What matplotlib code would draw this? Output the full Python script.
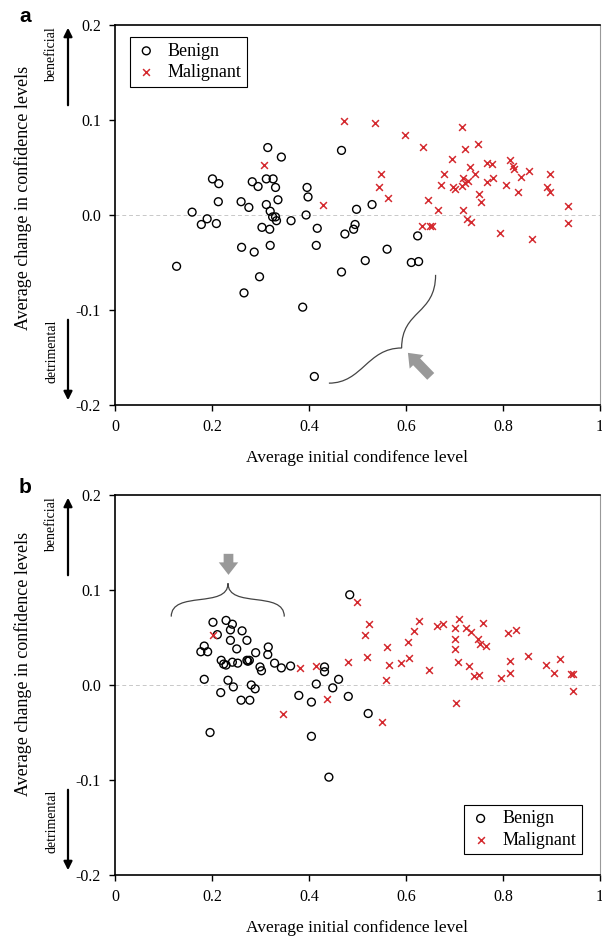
import matplotlib
matplotlib.use('Agg')
import matplotlib.pyplot as plt
from matplotlib.path import Path
from matplotlib.patches import PathPatch

plt.rcParams['font.family'] = ['Liberation Serif', 'DejaVu Serif']
plt.rcParams['axes.unicode_minus'] = False

# panel a
ben_a_x = [0.127, 0.159, 0.178, 0.190, 0.209, 0.201, 0.214, 0.213, 0.260, 0.276,
           0.261, 0.287, 0.266, 0.298, 0.283, 0.295, 0.315, 0.343, 0.312, 0.326,
           0.331, 0.336, 0.312, 0.320, 0.325, 0.331, 0.333, 0.303, 0.319, 0.320,
           0.363, 0.396, 0.398, 0.394, 0.417, 0.415, 0.387, 0.411, 0.467, 0.467,
           0.474, 0.492, 0.495, 0.498, 0.530, 0.516, 0.561, 0.624, 0.611, 0.626]
ben_a_y = [-0.054, 0.003, -0.010, -0.004, -0.009, 0.038, 0.033, 0.014, 0.014, 0.008,
           -0.034, -0.039, -0.082, -0.065, 0.035, 0.030, 0.071, 0.061, 0.038, 0.038,
           0.029, 0.016, 0.011, 0.004, -0.002, -0.002, -0.006, -0.013, -0.015, -0.032,
           -0.006, 0.029, 0.019, 0.000, -0.014, -0.032, -0.097, -0.170, 0.068, -0.060,
           -0.020, -0.015, -0.010, 0.006, 0.011, -0.048, -0.036, -0.022, -0.050, -0.049]
mal_a_x = [0.307, 0.472, 0.428, 0.536, 0.598, 0.635, 0.548, 0.545, 0.562, 0.645,
           0.665, 0.632, 0.650, 0.654, 0.716, 0.721, 0.749, 0.695, 0.732, 0.743,
           0.678, 0.672, 0.697, 0.700, 0.717, 0.722, 0.728, 0.716, 0.750, 0.754,
           0.717, 0.726, 0.734, 0.767, 0.777, 0.767, 0.779, 0.806, 0.814, 0.820,
           0.823, 0.837, 0.854, 0.831, 0.793, 0.860, 0.897, 0.890, 0.897, 0.935, 0.934]
mal_a_y = [0.053, 0.099, 0.011, 0.097, 0.084, 0.072, 0.043, 0.029, 0.018, 0.016,
           0.005, -0.012, -0.012, -0.012, 0.093, 0.070, 0.075, 0.059, 0.051, 0.043,
           0.043, 0.032, 0.030, 0.027, 0.039, 0.034, 0.036, 0.031, 0.022, 0.014,
           0.005, -0.004, -0.007, 0.055, 0.054, 0.035, 0.039, 0.032, 0.058, 0.052,
           0.048, 0.040, 0.046, 0.024, -0.019, -0.025, 0.043, 0.030, 0.024, 0.010, -0.008]

# panel b
ben_b_x = [0.484, 0.202, 0.211, 0.229, 0.242, 0.238, 0.262, 0.238, 0.272, 0.184,
           0.177, 0.191, 0.251, 0.290, 0.316, 0.315, 0.219, 0.224, 0.229, 0.242,
           0.253, 0.272, 0.277, 0.274, 0.299, 0.302, 0.329, 0.343, 0.362, 0.184,
           0.233, 0.244, 0.218, 0.281, 0.289, 0.260, 0.278, 0.196, 0.379, 0.405,
           0.405, 0.415, 0.432, 0.432, 0.449, 0.461, 0.481, 0.441, 0.522]
ben_b_y = [0.095, 0.066, 0.053, 0.068, 0.064, 0.058, 0.057, 0.047, 0.047, 0.041,
           0.035, 0.035, 0.038, 0.034, 0.040, 0.032, 0.026, 0.022, 0.021, 0.024,
           0.023, 0.026, 0.026, 0.025, 0.019, 0.015, 0.023, 0.018, 0.020, 0.006,
           0.005, -0.002, -0.008, 0.000, -0.004, -0.016, -0.016, -0.050, -0.011, -0.018,
           -0.054, 0.001, 0.019, 0.014, -0.003, 0.006, -0.012, -0.097, -0.030]
mal_b_x = [0.202, 0.381, 0.414, 0.480, 0.438, 0.347, 0.498, 0.523, 0.516, 0.520,
           0.550, 0.561, 0.559, 0.565, 0.589, 0.606, 0.605, 0.617, 0.626, 0.648,
           0.663, 0.676, 0.702, 0.709, 0.702, 0.702, 0.707, 0.704, 0.724, 0.734,
           0.758, 0.749, 0.753, 0.765, 0.730, 0.741, 0.750, 0.795, 0.815, 0.814,
           0.810, 0.827, 0.852, 0.888, 0.906, 0.918, 0.940, 0.945, 0.944]
mal_b_y = [0.053, 0.018, 0.020, 0.024, -0.015, -0.030, 0.087, 0.064, 0.053, 0.029,
           -0.039, 0.040, 0.005, 0.021, 0.023, 0.028, 0.045, 0.057, 0.067, 0.016,
           0.062, 0.064, 0.060, 0.070, 0.048, 0.038, 0.024, -0.019, 0.060, 0.056,
           0.065, 0.048, 0.043, 0.041, 0.020, 0.009, 0.011, 0.007, 0.013, 0.025,
           0.055, 0.058, 0.031, 0.021, 0.013, 0.027, 0.012, 0.012, -0.006]

x_ticks = [0, 0.2, 0.4, 0.6, 0.8, 1]
x_tick_labels = ['0', '0.2', '0.4', '0.6', '0.8', '1']
y_ticks = [-0.2, -0.1, 0.0, 0.1, 0.2]
y_tick_labels = ['-0.2', '-0.1', '0.0', '0.1', '0.2']

red = '#d42a2f'
W, H = 602, 936

fig = plt.figure(figsize=(6.02, 9.36), dpi=100)


def draw_panel(top_px, bx, by, mx, my, xlabel, legend_loc, legend_anchor, ylab_y):
    ax = fig.add_axes([115 / W, 1 - (top_px + 380) / H, 485 / W, 380 / H])
    ax.axhline(0, color='#c8c8c8', lw=0.7, ls=(0, (4, 3)), zorder=0)
    ax.scatter(bx, by, s=32, facecolors='none', edgecolors='black', linewidths=1.0,
               label='Benign', zorder=3)
    ax.scatter(mx, my, s=24, marker='x', color=red, linewidths=1.1,
               label='Malignant', zorder=3)
    ax.set_xlim(0, 1)
    ax.set_ylim(-0.2, 0.2)
    ax.set_xticks(x_ticks)
    ax.set_xticklabels(x_tick_labels)
    ax.set_yticks(y_ticks)
    ax.set_yticklabels(y_tick_labels)
    ax.tick_params(direction='out', length=4, width=1, labelsize=11.5, pad=6)
    for s in ['left', 'bottom', 'top']:
        ax.spines[s].set_linewidth(1.2)
    ax.spines['right'].set_color('#999999')
    ax.spines['right'].set_linewidth(0.8)
    ax.set_xlabel(xlabel, fontsize=12.5)
    ax.xaxis.label.set_va('center')
    ax.xaxis.set_label_coords(0.5, -0.14)
    ax.set_ylabel('Average change in confidence levels', fontsize=13)
    ax.yaxis.label.set_va('center')
    ax.yaxis.set_label_coords(-0.19, ylab_y)
    leg = ax.legend(loc=legend_loc, bbox_to_anchor=legend_anchor, borderaxespad=0,
                    fontsize=13, fancybox=False, edgecolor='black', framealpha=1,
                    handletextpad=0.6, borderpad=0.3, labelspacing=0.25,
                    handlelength=1.2, scatterpoints=1)
    leg.get_frame().set_linewidth(0.8)

    # beneficial / detrimental side notes
    fig.text(52 / W, 1 - (top_px + 2) / H, 'beneficial', rotation=90, fontsize=10,
             ha='center', va='top')
    fig.text(52 / W, 1 - (top_px + 295) / H, 'detrimental', rotation=90, fontsize=10,
             ha='center', va='top')
    ax.annotate('', xy=(68 / W, 1 - top_px / H), xytext=(68 / W, 1 - (top_px + 83) / H),
                xycoords='figure fraction',
                arrowprops=dict(arrowstyle='-|>,head_width=0.25,head_length=0.5',
                                lw=1.6, color='black'))
    ax.annotate('', xy=(68 / W, 1 - (top_px + 378) / H),
                xytext=(68 / W, 1 - (top_px + 292) / H),
                xycoords='figure fraction',
                arrowprops=dict(arrowstyle='-|>,head_width=0.25,head_length=0.5',
                                lw=1.6, color='black'))
    return ax


ax1 = draw_panel(25, ben_a_x, ben_a_y, mal_a_x, mal_a_y,
                 'Average initial condifence level', 'upper left', (0.031, 0.968), 0.545)
ax2 = draw_panel(495, ben_b_x, ben_b_y, mal_b_x, mal_b_y,
                 'Average initial confidence level', 'lower right', (0.962, 0.055), 0.555)

fig.text(25 / W, 1 - 17 / H, 'a', fontsize=15, fontweight='bold',
         family='Liberation Sans', ha='center', va='center')
fig.text(25 / W, 1 - 487 / H, 'b', fontsize=15, fontweight='bold',
         family='Liberation Sans', ha='center', va='center')

# brace + arrow, panel a
verts = [(0.441, -0.177), (0.51, -0.177), (0.52, -0.140), (0.591, -0.140),
         (0.591, -0.100), (0.661, -0.105), (0.661, -0.063)]
codes = [Path.MOVETO] + [Path.CURVE4] * 6
ax1.add_patch(PathPatch(Path(verts, codes), fill=False, lw=0.9, color='#444444'))
ax1.annotate('', xy=(0.600, -0.143), xytext=(0.655, -0.172),
             arrowprops=dict(arrowstyle='simple,head_width=1.4,head_length=0.9,tail_width=0.7',
                             color='#999999', lw=0))

# brace + arrow, panel b
verts = [(0.116, 0.072), (0.116, 0.100), (0.233, 0.080), (0.233, 0.107),
         (0.233, 0.080), (0.349, 0.100), (0.349, 0.072)]
ax2.add_patch(PathPatch(Path(verts, codes), fill=False, lw=0.9, color='#444444'))
ax2.annotate('', xy=(0.234, 0.113), xytext=(0.234, 0.141),
             arrowprops=dict(arrowstyle='simple,head_width=1.4,head_length=0.9,tail_width=0.7',
                             color='#999999', lw=0))

fig.savefig('out.png', dpi=100)
